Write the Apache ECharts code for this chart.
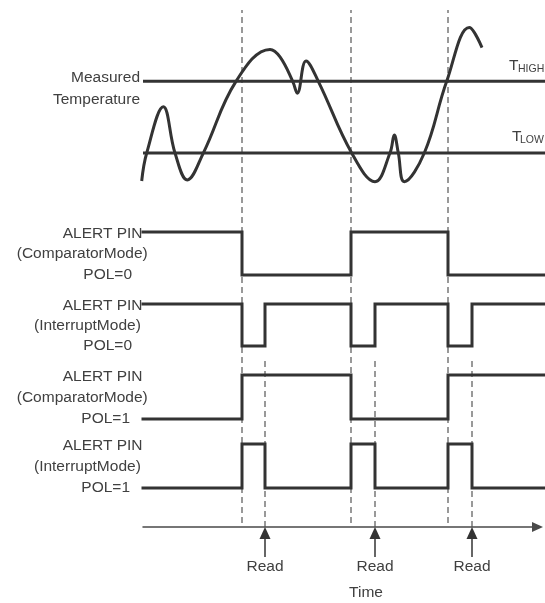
<!DOCTYPE html>
<html><head><meta charset="utf-8">
<script src="https://cdn.jsdelivr.net/npm/echarts@6/dist/echarts.min.js"></script>
<style>html,body{margin:0;padding:0;background:#fff}#c{width:545px;height:603px}</style>
</head><body><div id="c"></div>
<script>
// ---------------- data ----------------
const tempTime  = [-1.3, 3.7, 20.3, 32, 44.3, 60.3, 93, 127, 137, 149.7, 154.3, 163, 175.3, 208.7, 232, 247, 251.3, 255.3, 261.3, 281.3, 303.7, 326.3, 339];
const tempValue = [12.2, 20, 32.9, 20, 12.5, 20, 40, 48.9, 46.8, 40, 36.7, 45.7, 40, 20, 12.0, 20, 25.0, 20, 12.0, 20, 40, 55.0, 49.4];
const thresholdNames  = ['HIGH', 'LOW'];
const thresholdValues = [40, 20];
const eventTimes = [99, 208, 305];
const readTimes  = [122, 232, 329];
const readLabel  = 'Read';
const endTime = 402;
const compPol0Levels = [1, 0, 1, 0];
const intPol0Levels  = [1, 0, 1, 0, 1, 0, 1];
const compPol1Levels = [0, 1, 0, 1];
const intPol1Levels  = [0, 1, 0, 1, 0, 1, 0];
const pinNames  = ['ALERT PIN', 'ALERT PIN', 'ALERT PIN', 'ALERT PIN'];
const modeNames = ['(ComparatorMode)', '(InterruptMode)', '(ComparatorMode)', '(InterruptMode)'];
const polNames  = ['POL=0', 'POL=0', 'POL=1', 'POL=1'];
const curveLabel = ['Measured', 'Temperature'];
const axisName = 'Time';

// ---------------- layout / style ----------------
const FONT = '"Liberation Sans", Arial, sans-serif';
const FS = 15.5;
const TEXT = '#404040';
const INK = '#333333';
const tempG = { left: 140, top: 9.6, height: 179.3, min: 10, max: 60, xmin: -3 };
const lanes = [ {top: 232, bottom: 275}, {top: 304, bottom: 346}, {top: 375, bottom: 419}, {top: 444, bottom: 488} ];
const pinRight  = [142.5, 142.5, 142.5, 142.5];
const modeRight = [147.7, 140.8, 147.7, 140.8];
const polRight  = [132, 132, 130, 130];
const axisY = 527, overlayTop = 10, axisRight = 7.5, readBottom = 557;
const axisMax = 545 - axisRight - 143;

function tempY(v) { return tempG.top + (tempG.max - v) / (tempG.max - tempG.min) * tempG.height; }

function stepData(levels, breaks) {
  const d = levels.map((l, i) => [breaks[i], l]);
  d.push([endTime, levels[levels.length - 1]]);
  return d;
}
const compBreaks = [0].concat(eventTimes);
const intBreaks = [0];
eventTimes.forEach((e, i) => { intBreaks.push(e, readTimes[i]); });
const signals = [
  stepData(compPol0Levels, compBreaks),
  stepData(intPol0Levels, intBreaks),
  stepData(compPol1Levels, compBreaks),
  stepData(intPol1Levels, intBreaks)
];

const grids = [], xAxes = [], yAxes = [], series = [];
// grid 0: temperature
grids.push({ left: tempG.left, right: 0, top: tempG.top, height: tempG.height, outerBoundsMode: 'none' });
xAxes.push({ type: 'value', gridIndex: 0, min: tempG.xmin, max: endTime, show: false });
yAxes.push({ type: 'value', gridIndex: 0, min: tempG.min, max: tempG.max, show: false });
// grids 1-4: signal lanes
lanes.forEach((ln, i) => {
  grids.push({ left: 143, right: 0, top: ln.top, height: ln.bottom - ln.top, outerBoundsMode: 'none' });
  xAxes.push({ type: 'value', gridIndex: i + 1, min: 0, max: endTime, show: false });
  yAxes.push({ type: 'value', gridIndex: i + 1, min: 0, max: 1, show: false });
});
// grid 5: overlay with time axis
grids.push({ left: 143, right: axisRight, top: overlayTop, height: axisY - overlayTop, outerBoundsMode: 'none' });
xAxes.push({ type: 'value', gridIndex: 5, min: 0, max: axisMax, position: 'bottom',
  axisLine: { show: true, symbol: ['none', 'triangle'], symbolSize: [10, 11], lineStyle: { color: '#4a4a4a', width: 1.5 } },
  axisTick: { show: false }, axisLabel: { show: false }, splitLine: { show: false } });
yAxes.push({ type: 'value', gridIndex: 5, min: 0, max: axisY - overlayTop, show: false });
// grid 6: read arrows
grids.push({ left: 143, right: axisRight, top: axisY, height: readBottom - axisY, outerBoundsMode: 'none' });
xAxes.push({ type: 'value', gridIndex: 6, min: 0, max: axisMax, position: 'bottom',
  axisLine: { show: false }, axisTick: { show: false }, splitLine: { show: false },
  axisLabel: { show: true, customValues: readTimes, formatter: () => readLabel, margin: 2,
    color: TEXT, fontSize: FS, fontFamily: FONT, hideOverlap: false } });
yAxes.push({ type: 'value', gridIndex: 6, min: 0, max: readBottom - axisY, show: false });

// dashed guide lines
eventTimes.forEach(e => series.push({ type: 'line', xAxisIndex: 5, yAxisIndex: 5, data: [[e, 4], [e, axisY - overlayTop]],
  showSymbol: false, silent: true, z: 1, lineStyle: { color: '#555', width: 1.2, type: [6, 4] } }));
readTimes.forEach(r => series.push({ type: 'line', xAxisIndex: 5, yAxisIndex: 5, data: [[r, 0], [r, axisY - 357]],
  showSymbol: false, silent: true, z: 1, lineStyle: { color: '#555', width: 1.2, type: [6, 4] } }));
// temperature curve
series.push({ type: 'line', xAxisIndex: 0, yAxisIndex: 0, data: tempTime.map((t, i) => [t, tempValue[i]]),
  smooth: 0.4, showSymbol: false, clip: false, z: 3, lineStyle: { color: INK, width: 3 } });
// thresholds
thresholdValues.forEach(v => series.push({ type: 'line', xAxisIndex: 0, yAxisIndex: 0, data: [[0, v], [endTime, v]],
  showSymbol: false, clip: false, z: 2, lineStyle: { color: INK, width: 3 } }));
// signals
signals.forEach((d, i) => series.push({ type: 'line', xAxisIndex: i + 1, yAxisIndex: i + 1, data: d, step: 'end',
  showSymbol: false, clip: false, z: 3, lineStyle: { color: INK, width: 3, cap: 'square', join: 'miter' } }));
// read arrows
readTimes.forEach(r => series.push({ type: 'line', xAxisIndex: 6, yAxisIndex: 6,
  data: [{ value: [r, 0], symbol: 'none' }, { value: [r, readBottom - axisY - 6], symbol: 'triangle', symbolSize: [11, 12] }],
  showSymbol: true, showAllSymbol: true, clip: false, z: 3, silent: true,
  itemStyle: { color: INK }, lineStyle: { color: INK, width: 1.5 } }));

// text labels
const graphic = [];
function txt(text, x, y, align, size) {
  graphic.push({ type: 'text', x: x, y: y, silent: true,
    style: { text: text, fill: TEXT, fontSize: size || FS, fontFamily: FONT, align: align, verticalAlign: 'middle' } });
}
txt(curveLabel[0], 140, tempY(thresholdValues[0]) - 4, 'right');
txt(curveLabel[1], 140, tempY(thresholdValues[0]) + 18, 'right');
const tLeft = [509, 512], subLeft = [518, 520];
thresholdNames.forEach((n, i) => {
  const y = tempY(thresholdValues[i]);
  txt('T', tLeft[i], y - 16, 'left', FS);
  txt(n, subLeft[i], y - 12.5, 'left', 10.5);
});
lanes.forEach((ln, i) => {
  txt(pinNames[i], pinRight[i], ln.top + 1.5, 'right');
  txt(modeNames[i], modeRight[i], (ln.top + ln.bottom) / 2 + 0.5, 'right');
  txt(polNames[i], polRight[i], ln.bottom, 'right');
});
txt(axisName, 366, 593, 'center');

const chart = echarts.init(document.getElementById('c'), null, { renderer: 'canvas' });
chart.setOption({ animation: false, backgroundColor: '#fff', grid: grids, xAxis: xAxes, yAxis: yAxes, series: series, graphic: graphic });
</script></body></html>
